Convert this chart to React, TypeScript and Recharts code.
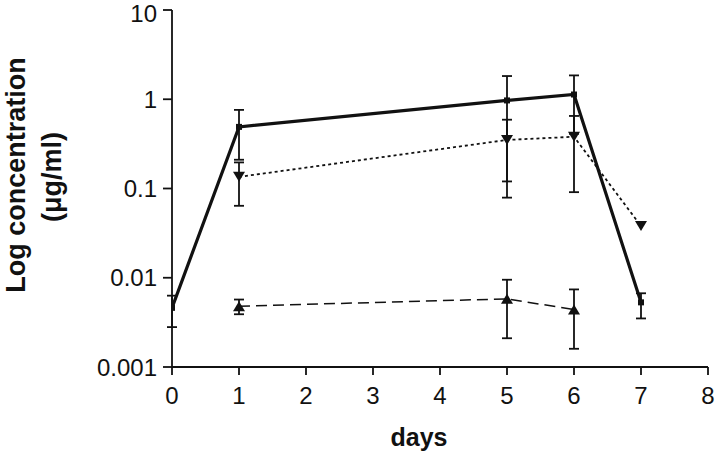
import { ComposedChart, ErrorBar, Line, XAxis, YAxis } from "recharts"

// days sampled per series
const solidDays = [0, 1, 5, 6, 7]
const solidMean = [0.0046, 0.49, 0.97, 1.13, 0.0053]
const solidLow = [0.0028, 0.21, 0.12, 0.41, 0.0035]
const solidHigh = [0.0063, 0.76, 1.82, 1.85, 0.0067]

const downDays = [1, 5, 6, 7]
const downMean = [0.135, 0.35, 0.38, 0.038]
const downLow = [0.064, 0.079, 0.091, 0.038]
const downHigh = [0.196, 0.59, 0.65, 0.038]

const upDays = [1, 5, 6]
const upMean = [0.0048, 0.0058, 0.0044]
const upLow = [0.0039, 0.0021, 0.0016]
const upHigh = [0.0057, 0.0095, 0.0074]

const xTicks = [0, 1, 2, 3, 4, 5, 6, 7, 8]
const yTicks = [0.001, 0.01, 0.1, 1, 10]

const INK = "#111"
const FONT = "Liberation Sans, Arial, sans-serif"

// no error bar when low == high (single measurement)
const toRows = (days: number[], mean: number[], low: number[], high: number[]) =>
  days.map((day, i) => ({
    day,
    value: mean[i],
    err: low[i] === high[i] ? null : [mean[i] - low[i], high[i] - mean[i]],
  }))

const solidData = toRows(solidDays, solidMean, solidLow, solidHigh)
const downData = toRows(downDays, downMean, downLow, downHigh)
const upData = toRows(upDays, upMean, upLow, upHigh)

const Square = (props: any) => {
  const { cx, cy, index } = props
  if (cx == null || cy == null) return <g key={`sq-${index}`} />
  return <rect key={`sq-${index}`} x={cx - 3} y={cy - 3} width={6} height={6} fill={INK} />
}

const DownTriangle = (props: any) => {
  const { cx, cy, index } = props
  if (cx == null || cy == null) return <g key={`dt-${index}`} />
  return (
    <path
      key={`dt-${index}`}
      d={`M${cx - 6},${cy - 5} L${cx + 6},${cy - 5} L${cx},${cy + 5} Z`}
      fill={INK}
    />
  )
}

const UpTriangle = (props: any) => {
  const { cx, cy, index } = props
  if (cx == null || cy == null) return <g key={`ut-${index}`} />
  return (
    <path
      key={`ut-${index}`}
      d={`M${cx - 6},${cy + 5} L${cx + 6},${cy + 5} L${cx},${cy - 5} Z`}
      fill={INK}
    />
  )
}

const YTitle = () => (
  <g fontFamily={FONT} fontWeight="bold" fontSize={27} fill={INK}>
    <text x={25} y={175} textAnchor="middle" transform="rotate(-90, 25, 175)">
      Log concentration
    </text>
    <text x={61} y={177} textAnchor="middle" transform="rotate(-90, 61, 177)">
      (μg/ml)
    </text>
  </g>
)

const XTitle = () => (
  <text x={419} y={446} textAnchor="middle" fontFamily={FONT} fontWeight="bold" fontSize={25} fill={INK}>
    days
  </text>
)

export default function App() {
  return (
    <div style={{ position: "absolute", left: 0, top: 0, width: 715, height: 456, background: "#fff" }}>
      <ComposedChart width={715} height={456} margin={{ top: 10, right: 7, bottom: 29, left: 62 }}>
        <XAxis
          type="number"
          dataKey="day"
          domain={[0, 8]}
          ticks={xTicks}
          allowDataOverflow
          height={60}
          tickSize={8}
          tickMargin={12}
          stroke={INK}
          strokeWidth={1.8}
          tick={{ fill: INK, fontSize: 24, fontFamily: FONT }}
          label={{ content: XTitle }}
        />
        <YAxis
          type="number"
          scale="log"
          domain={[0.001, 10]}
          ticks={yTicks}
          allowDataOverflow
          width={110}
          tickSize={9}
          tickMargin={6}
          stroke={INK}
          strokeWidth={1.8}
          tickFormatter={(v: number) => String(v)}
          tick={{ fill: INK, fontSize: 24, fontFamily: FONT }}
          label={{ content: YTitle }}
        />
        <Line
          data={upData}
          dataKey="value"
          stroke={INK}
          strokeWidth={1.5}
          strokeDasharray="11 6"
          dot={UpTriangle}
          isAnimationActive={false}
        >
          <ErrorBar dataKey="err" width={5} stroke={INK} strokeWidth={1.8} isAnimationActive={false} />
        </Line>
        <Line
          data={downData}
          dataKey="value"
          stroke={INK}
          strokeWidth={1.8}
          strokeDasharray="3 3"
          dot={DownTriangle}
          isAnimationActive={false}
        >
          <ErrorBar dataKey="err" width={5} stroke={INK} strokeWidth={1.8} isAnimationActive={false} />
        </Line>
        <Line
          data={solidData}
          dataKey="value"
          stroke={INK}
          strokeWidth={3.2}
          dot={Square}
          isAnimationActive={false}
        >
          <ErrorBar dataKey="err" width={5} stroke={INK} strokeWidth={1.8} isAnimationActive={false} />
        </Line>
      </ComposedChart>
    </div>
  )
}
